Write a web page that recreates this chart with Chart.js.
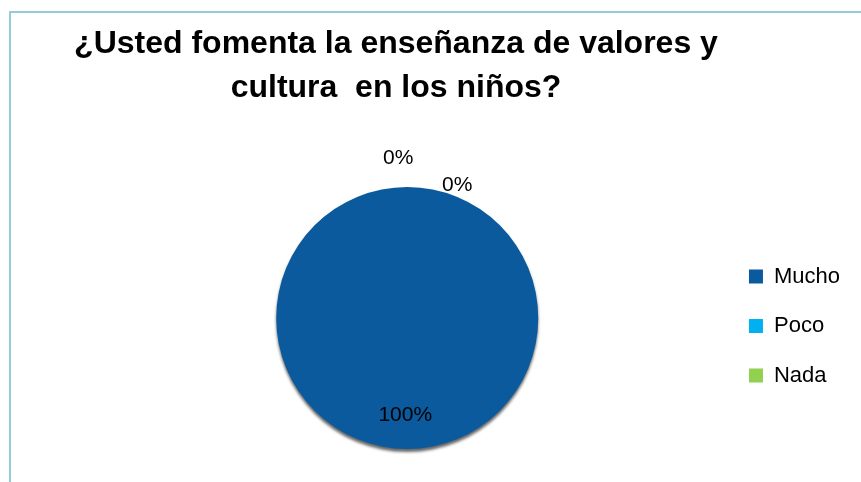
<!DOCTYPE html>
<html>
<head>
<meta charset="utf-8">
<script src="https://cdn.jsdelivr.net/npm/chart.js@4.4.1/dist/chart.umd.min.js"></script>
<style>
  html, body { margin: 0; padding: 0; background: #fff; }
  #wrap { width: 861px; height: 482px; }
</style>
</head>
<body>
<div id="wrap"><canvas id="grafico"></canvas></div>
<script>
const TITULO = ['¿Usted fomenta la enseñanza de valores y', 'cultura  en los niños?'];
const CATEGORIAS = ['Mucho', 'Poco', 'Nada'];
const VALORES = [100, 0, 0];
const COLORES = ['#0B5A9E', '#00B0F0', '#92D050'];

const FUENTE = '"Liberation Sans", Arial, sans-serif';

// marco azul claro del grafico (Excel)
const marco = {
    id: 'marco',
    beforeDraw(chart) {
        const ctx = chart.ctx;
        ctx.save();
        ctx.fillStyle = '#fff';
        ctx.fillRect(0, 0, chart.width, chart.height);
        ctx.strokeStyle = '#93CDDD';
        ctx.lineWidth = 2;
        ctx.strokeRect(10, 12, chart.width + 20, chart.height + 20);
        ctx.restore();
    }
};

const titulo = {
    id: 'titulo',
    afterDraw(chart, args, opts) {
        const ctx = chart.ctx;
        ctx.save();
        ctx.font = 'bold 32px ' + FUENTE;
        ctx.fillStyle = '#000';
        ctx.textAlign = 'center';
        ctx.textBaseline = 'alphabetic';
        TITULO.forEach((linea, i) => {
            ctx.fillText(linea, opts.x, opts.y + i * opts.interlineado);
        });
        ctx.restore();
    }
};

// sombra debajo del pastel
const sombra = {
    id: 'sombra',
    beforeDatasetsDraw(chart) {
        const ctx = chart.ctx;
        ctx.save();
        ctx.shadowColor = 'rgba(0, 0, 0, 0.6)';
        ctx.shadowBlur = 3;
        ctx.shadowOffsetY = 3;
    },
    afterDatasetsDraw(chart) {
        chart.ctx.restore();
    }
};

const etiquetas = {
    id: 'etiquetas',
    afterDatasetsDraw(chart, args, opts) {
        const ctx = chart.ctx;
        const meta = chart.getDatasetMeta(0);
        const total = VALORES.reduce((a, b) => a + b, 0);
        ctx.save();
        ctx.font = '21px ' + FUENTE;
        ctx.fillStyle = '#000';
        ctx.textAlign = 'center';
        ctx.textBaseline = 'middle';
        meta.data.forEach((arc, i) => {
            const p = arc.getProps(['x', 'y', 'startAngle', 'endAngle', 'outerRadius'], true);
            const medio = (p.startAngle + p.endAngle) / 2;
            const d = opts.desplazamientos[i];
            const r = p.outerRadius * d.r;
            ctx.fillText(Math.round(VALORES[i] / total * 100) + '%',
                p.x + Math.cos(medio) * r + d.dx,
                p.y + Math.sin(medio) * r);
        });
        ctx.restore();
    }
};

new Chart(document.getElementById('grafico'), {
    type: 'pie',
    data: {
        labels: CATEGORIAS,
        datasets: [{
            data: VALORES,
            backgroundColor: COLORES,
            borderWidth: 0
        }]
    },
    options: {
        responsive: true,
        maintainAspectRatio: false,
        animation: false,
        layout: {
            padding: { top: 187, bottom: 33, left: 93, right: 11 }
        },
        plugins: {
            tooltip: { enabled: false },
            legend: {
                position: 'right',
                title: { display: true, text: ' ', font: { size: 10 }, padding: { top: 4, bottom: 0 } },
                labels: {
                    boxWidth: 14,
                    boxHeight: 14,
                    padding: 27.5,
                    color: '#000',
                    font: { size: 22, family: FUENTE }
                }
            },
            titulo: { x: 396, y: 53, interlineado: 44 },
            etiquetas: {
                desplazamientos: [
                    { r: 0.74, dx: -2 },
                    { r: 1.22, dx: -9 },
                    { r: 1.015, dx: 50 }
                ]
            }
        }
    },
    plugins: [marco, sombra, etiquetas, titulo]
});
</script>
</body>
</html>
